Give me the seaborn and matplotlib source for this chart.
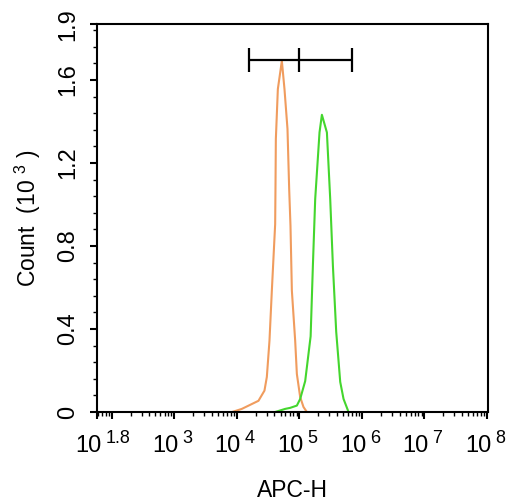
import numpy as np
import pandas as pd
import matplotlib
matplotlib.use("Agg")
import matplotlib.pyplot as plt
import seaborn as sns
from matplotlib.ticker import FixedLocator, FixedFormatter, LogLocator, NullFormatter

# ---- data (log10 of APC-H intensity, count in thousands) ----
orange_log_x = [3.925, 4.08, 4.346, 4.442, 4.48, 4.522, 4.56, 4.613, 4.618, 4.624, 4.656,
                4.72, 4.762, 4.81, 4.837, 4.858, 4.88, 4.933, 4.96, 5.013, 5.066, 5.12]
orange_count = [0.0, 0.015, 0.054, 0.103, 0.169, 0.343, 0.585, 0.905, 1.075, 1.315, 1.556,
                1.692, 1.556, 1.364, 1.075, 0.897, 0.585, 0.343, 0.183, 0.072, 0.024, 0.0]
green_log_x = [4.613, 4.773, 4.853, 4.96, 5.013, 5.093, 5.18, 5.216, 5.253, 5.322, 5.36,
               5.44, 5.493, 5.536, 5.589, 5.653, 5.706, 5.786]
green_count = [0.0, 0.015, 0.02, 0.031, 0.063, 0.149, 0.365, 0.705, 1.026, 1.347, 1.432,
               1.347, 1.026, 0.705, 0.386, 0.145, 0.063, 0.0]

gate_log_x = [4.20, 5.0, 5.84]
gate_y = 1.696

x_tick_log = [1.77, 2, 3, 4, 5, 6, 7, 8]
x_tick_base = ["10", "", "10", "10", "10", "10", "10", "10"]
x_tick_exp = ["1.8", "", "3", "4", "5", "6", "7", "8"]
y_ticks = [0, 0.4, 0.8, 1.2, 1.6, 1.868]
y_tick_labels = ["0", "0.4", "0.8", "1.2", "1.6", "1.9"]

sns.set_style("ticks")
plt.rcParams["font.family"] = ["Liberation Sans", "DejaVu Sans"]
plt.rcParams["mathtext.fontset"] = "custom"
plt.rcParams["mathtext.rm"] = "Liberation Sans"
plt.rcParams["mathtext.it"] = "Liberation Sans:italic"
plt.rcParams["mathtext.bf"] = "Liberation Sans:bold"
for k in ["text.color", "axes.labelcolor", "xtick.color", "ytick.color", "axes.edgecolor"]:
    plt.rcParams[k] = "black"

df = pd.concat([
    pd.DataFrame({"logx": orange_log_x, "count": orange_count, "sample": "control"}),
    pd.DataFrame({"logx": green_log_x, "count": green_count, "sample": "stained"}),
], ignore_index=True)
df["x"] = 10.0 ** df["logx"]

fig = plt.figure(figsize=(5.28, 5.03), dpi=100)
ax = fig.add_axes([0.1843, 0.1809, 0.7405, 0.7708])

sns.lineplot(data=df, x="x", y="count", hue="sample",
             palette={"control": "#F09C5E", "stained": "#44D62E"},
             sort=False, estimator=None, legend=False, linewidth=1.5, ax=ax)

ax.set_xscale("log")
ax.set_xlim(10 ** 1.77, 10 ** 8.02)
ax.set_ylim(0, 1.868)

# gate marker
gx = [10 ** v for v in gate_log_x]
ax.plot([gx[0], gx[-1]], [gate_y, gate_y], color="black", lw=1.6, solid_capstyle="butt")
ax.vlines(gx, gate_y - 0.06, gate_y + 0.06, color="black", lw=1.6)

ax.xaxis.set_major_locator(FixedLocator([10 ** v for v in x_tick_log]))
ax.xaxis.set_major_formatter(NullFormatter())
ax.xaxis.set_minor_locator(LogLocator(base=10, subs=np.arange(2, 10), numticks=100))
ax.xaxis.set_minor_formatter(NullFormatter())

# x tick labels: "10" with a large raised exponent
for xv, base, ex in zip(x_tick_log, x_tick_base, x_tick_exp):
    if not base:
        continue
    ax.annotate(base, xy=(10 ** xv, 0), xycoords=("data", "axes fraction"),
                xytext=(3, -16.5), textcoords="offset points",
                ha="right", va="top", fontsize=17, annotation_clip=False)
    ax.annotate(ex, xy=(10 ** xv, 0), xycoords=("data", "axes fraction"),
                xytext=(5.8, -13), textcoords="offset points",
                ha="left", va="top", fontsize=13, annotation_clip=False)

ax.yaxis.set_major_locator(FixedLocator(y_ticks))
ax.yaxis.set_major_formatter(FixedFormatter(y_tick_labels))
ax.yaxis.set_minor_locator(FixedLocator([round(0.08 * i, 2) for i in range(1, 24) if round(0.08 * i, 2) not in (0.4, 0.8, 1.2, 1.6)]))

for s in ax.spines.values():
    s.set_linewidth(1.5)
    s.set_color("black")
    s.set_visible(True)

ax.tick_params(which="major", direction="out", length=5, width=1.5, color="black",
               labelcolor="black", labelsize=17)
ax.tick_params(axis="y", which="major", pad=8)
ax.tick_params(which="minor", direction="out", length=3, width=1.0, color="black")
ax.tick_params(axis="y", labelrotation=90)
for lab in ax.get_yticklabels():
    lab.set_va("center")

ax.set_xlabel("APC-H", fontsize=16.5, color="black")
ax.set_ylabel(r"Count  (10 $^{3}$ )", fontsize=16.5, color="black")
ax.xaxis.set_label_coords(0.5, -0.172)
ax.yaxis.set_label_coords(-0.14, 0.5)

fig.savefig("out.png", dpi=100)
